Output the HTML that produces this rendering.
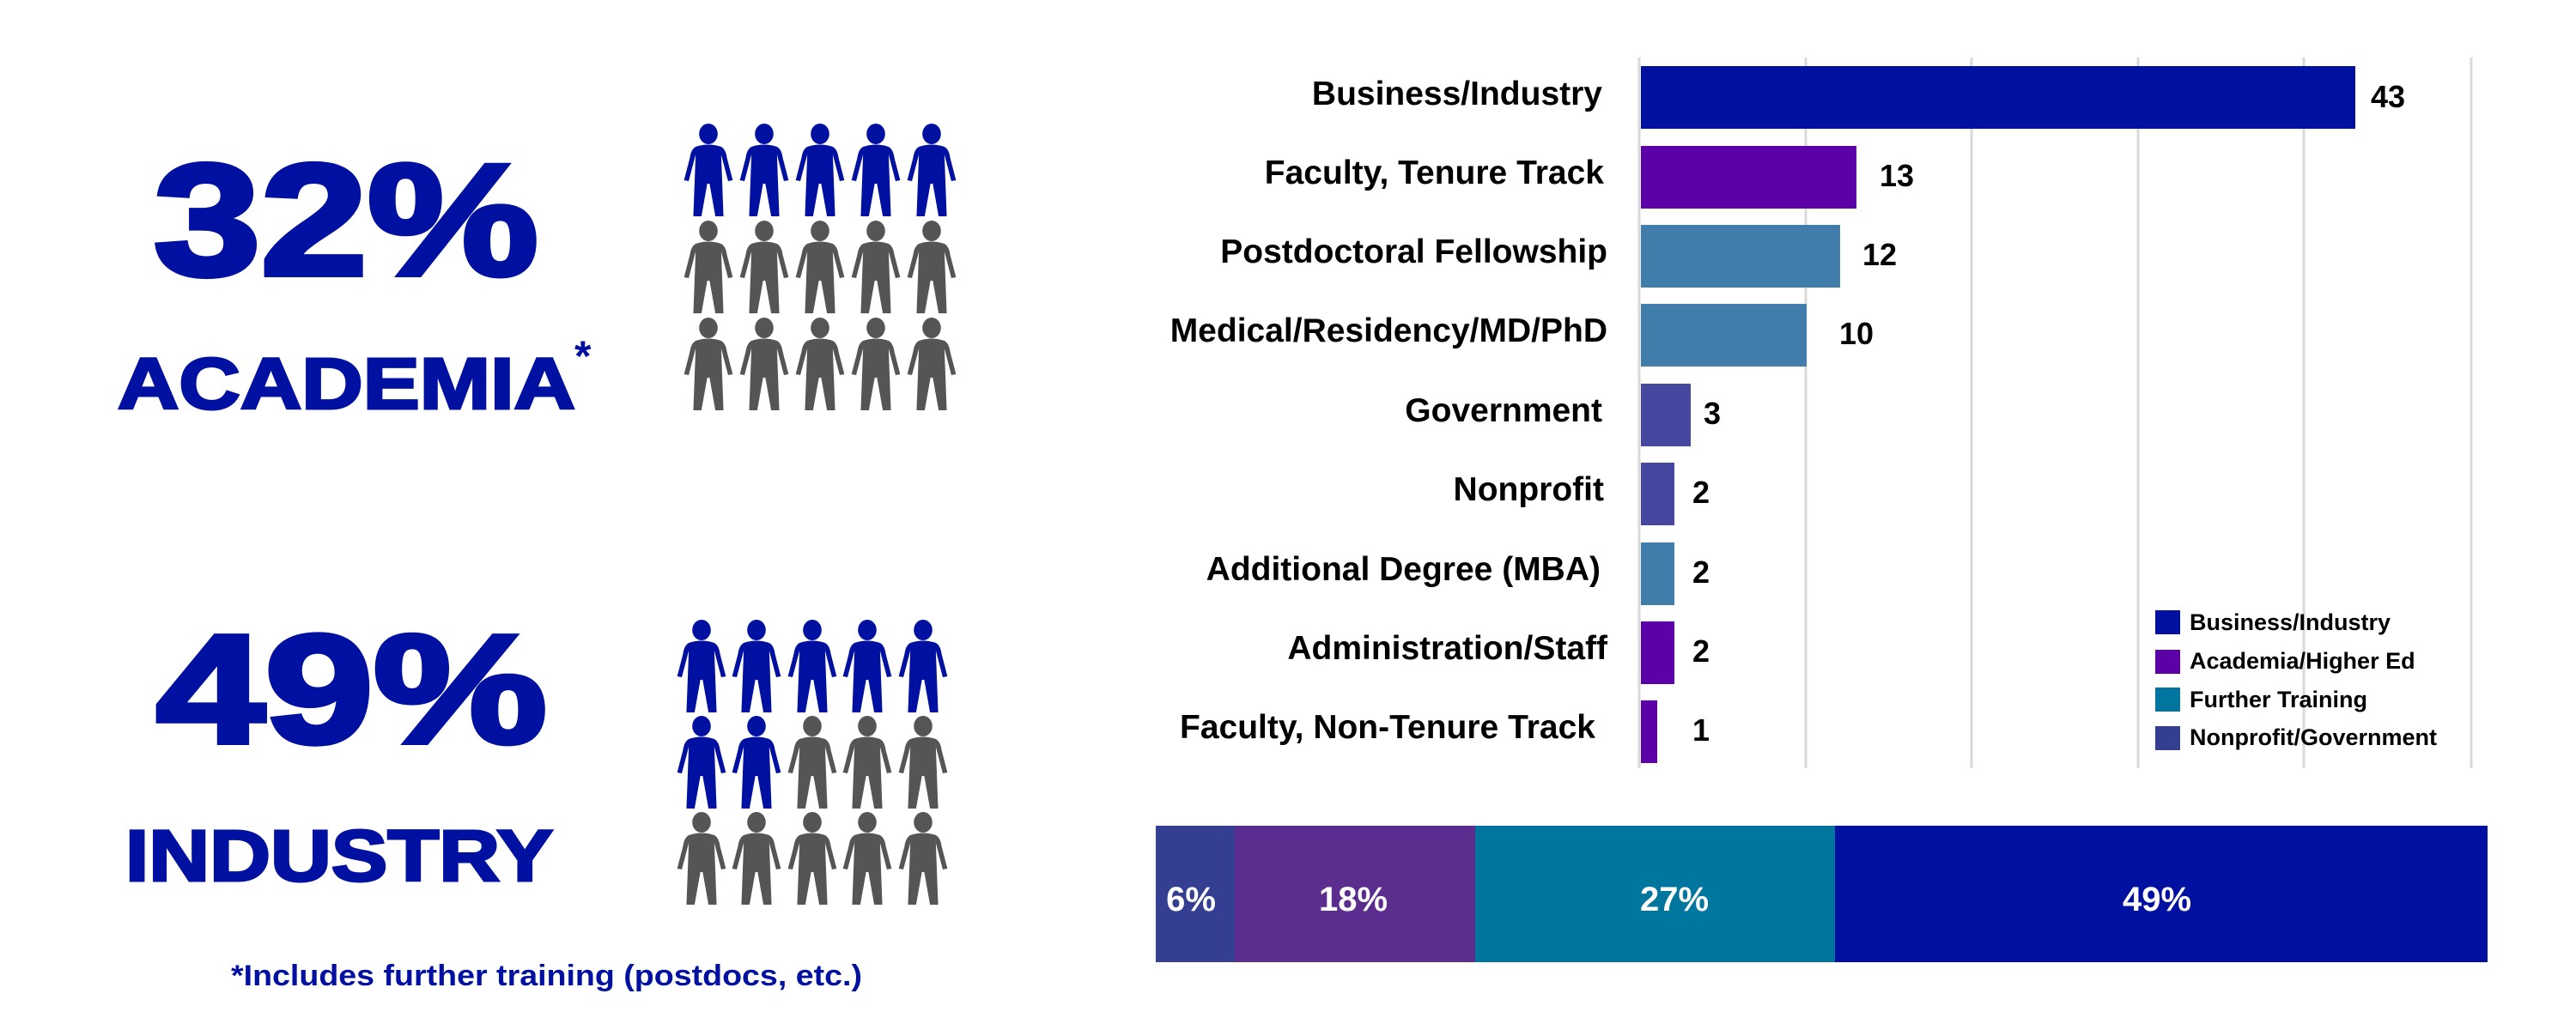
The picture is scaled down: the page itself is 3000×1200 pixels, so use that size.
<!DOCTYPE html>
<html><head><meta charset="utf-8"><style>
html,body{margin:0;padding:0;background:#fff;}
svg{display:block;font-family:"Liberation Sans",Arial,sans-serif;font-weight:bold;}
</style></head><body>
<svg width="3000" height="1200" viewBox="0 0 3000 1200" xmlns="http://www.w3.org/2000/svg">
<defs>
<g id="p">
<g transform="translate(29 0) scale(1.35 1) translate(-29 0)">
<ellipse cx="29" cy="12" rx="8" ry="12"/>
<path d="M18 27 Q29 22 40 27 Q44 30 45 40 L50 66 L46 67 L40 36 L42 108 L35 108 L30 70 L28 70 L23 108 L16 108 L18 36 L12 67 L8 66 L13 40 Q14 30 18 27 Z"/>
</g>
</g>
</defs>
<text x="179" y="320" font-size="185" textLength="448" lengthAdjust="spacingAndGlyphs" fill="#0010a0" stroke="#0010a0" stroke-width="6">32%</text>
<text x="137" y="476" font-size="84" textLength="533" lengthAdjust="spacingAndGlyphs" fill="#0010a0" stroke="#0010a0" stroke-width="3">ACADEMIA</text>
<text x="669" y="432" font-size="50" fill="#0010a0">*</text>
<g fill="#0010a0">
<use href="#p" x="796" y="144"/><use href="#p" x="861" y="144"/><use href="#p" x="926" y="144"/><use href="#p" x="991" y="144"/><use href="#p" x="1056" y="144"/>
</g>
<g fill="#555555">
<use href="#p" x="796" y="257"/><use href="#p" x="861" y="257"/><use href="#p" x="926" y="257"/><use href="#p" x="991" y="257"/><use href="#p" x="1056" y="257"/>
<use href="#p" x="796" y="370"/><use href="#p" x="861" y="370"/><use href="#p" x="926" y="370"/><use href="#p" x="991" y="370"/><use href="#p" x="1056" y="370"/>
</g>
<text x="182" y="865" font-size="180" textLength="455" lengthAdjust="spacingAndGlyphs" fill="#0010a0" stroke="#0010a0" stroke-width="6">49%</text>
<text x="146" y="1026" font-size="84" textLength="498" lengthAdjust="spacingAndGlyphs" fill="#0010a0" stroke="#0010a0" stroke-width="3">INDUSTRY</text>
<g fill="#0010a0">
<use href="#p" x="788" y="722"/><use href="#p" x="852" y="722"/><use href="#p" x="917" y="722"/><use href="#p" x="981" y="722"/><use href="#p" x="1046" y="722"/>
<use href="#p" x="788" y="834"/><use href="#p" x="852" y="834"/>
</g>
<g fill="#555555">
<use href="#p" x="917" y="834"/><use href="#p" x="981" y="834"/><use href="#p" x="1046" y="834"/>
<use href="#p" x="788" y="946"/><use href="#p" x="852" y="946"/><use href="#p" x="917" y="946"/><use href="#p" x="981" y="946"/><use href="#p" x="1046" y="946"/>
</g>
<text x="269" y="1148" font-size="34" textLength="735" lengthAdjust="spacingAndGlyphs" fill="#0010a0">*Includes further training (postdocs, etc.)</text>
<g stroke="#d9d9d9" stroke-width="3">
<line x1="1909" y1="67" x2="1909" y2="895"/><line x1="2103" y1="67" x2="2103" y2="895"/><line x1="2296" y1="67" x2="2296" y2="895"/><line x1="2490" y1="67" x2="2490" y2="895"/><line x1="2683" y1="67" x2="2683" y2="895"/><line x1="2878" y1="67" x2="2878" y2="895"/>
</g>
<rect x="1911" y="77" width="832" height="73" fill="#0010a0"/>
<rect x="1911" y="170" width="251" height="73" fill="#5c00a8"/>
<rect x="1911" y="262" width="232" height="73" fill="#417dab"/>
<rect x="1911" y="354" width="193" height="73" fill="#417dab"/>
<rect x="1911" y="447" width="58" height="73" fill="#46479f"/>
<rect x="1911" y="539" width="39" height="73" fill="#46479f"/>
<rect x="1911" y="632" width="39" height="73" fill="#417dab"/>
<rect x="1911" y="724" width="39" height="73" fill="#5c00a8"/>
<rect x="1911" y="816" width="19" height="73" fill="#5c00a8"/>
<g font-size="39" fill="#000" text-anchor="end">
<text x="1866" y="122">Business/Industry</text>
<text x="1868" y="214">Faculty, Tenure Track</text>
<text x="1872" y="306">Postdoctoral Fellowship</text>
<text x="1872" y="398">Medical/Residency/MD/PhD</text>
<text x="1866" y="491">Government</text>
<text x="1868" y="583">Nonprofit</text>
<text x="1864" y="676">Additional Degree (MBA)</text>
<text x="1872" y="768">Administration/Staff</text>
<text x="1858" y="860">Faculty, Non-Tenure Track</text>
</g>
<g font-size="36" fill="#000">
<text x="2761" y="125">43</text>
<text x="2189" y="217">13</text>
<text x="2169" y="309">12</text>
<text x="2142" y="401">10</text>
<text x="1984" y="494">3</text>
<text x="1971" y="586">2</text>
<text x="1971" y="679">2</text>
<text x="1971" y="771">2</text>
<text x="1971" y="863">1</text>
</g>
<rect x="2510" y="711" width="29" height="28" fill="#0010a0"/>
<rect x="2510" y="757" width="29" height="28" fill="#5c00a8"/>
<rect x="2510" y="801" width="29" height="28" fill="#00769f"/>
<rect x="2510" y="846" width="29" height="28" fill="#353f92"/>
<g font-size="27" fill="#000">
<text x="2550" y="734">Business/Industry</text>
<text x="2550" y="779">Academia/Higher Ed</text>
<text x="2550" y="824">Further Training</text>
<text x="2550" y="868">Nonprofit/Government</text>
</g>
<rect x="1346" y="962" width="93" height="159" fill="#353f92"/>
<rect x="1438" y="962" width="281" height="159" fill="#5a2d8f"/>
<rect x="1718" y="962" width="420" height="159" fill="#00769f"/>
<rect x="2137" y="962" width="760" height="159" fill="#0010a0"/>
<g font-size="40" fill="#fff" text-anchor="middle">
<text x="1387" y="1061">6%</text>
<text x="1576" y="1061">18%</text>
<text x="1950" y="1061">27%</text>
<text x="2512" y="1061">49%</text>
</g>
</svg>
</body></html>
